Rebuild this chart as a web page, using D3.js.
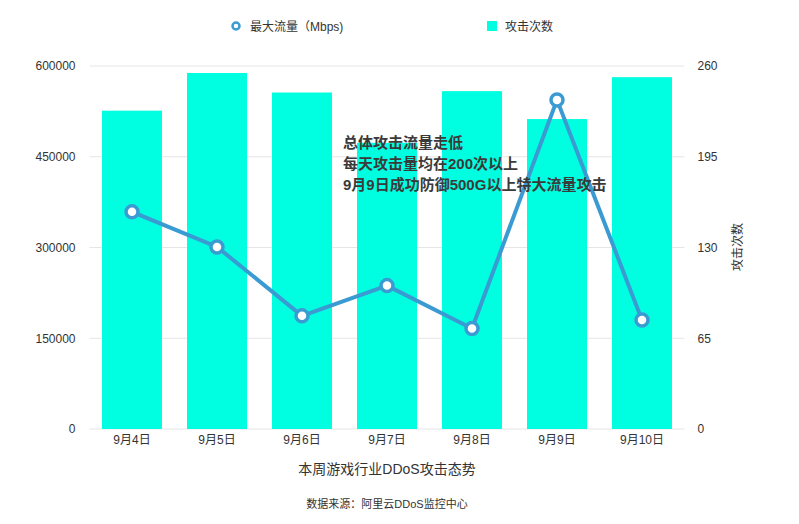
<!DOCTYPE html>
<html><head><meta charset="utf-8">
<script src="https://cdn.jsdelivr.net/npm/d3@7/dist/d3.min.js"></script>
<style>
body{margin:0;background:#fff;}
text{font-family:"Liberation Sans","Noto Sans CJK SC",sans-serif;}
</style></head><body>
<svg id="c" width="799" height="524"></svg>
<script>
const categories = ["9月4日","9月5日","9月6日","9月7日","9月8日","9月9日","9月10日"];
const attackCounts = [228, 255, 241, 205, 242, 222, 252];
const maxTraffic = [359000, 301000, 187000, 237000, 166000, 544000, 180000];
const leftTicks = [0, 150000, 300000, 450000, 600000];
const rightTicks = [0, 65, 130, 195, 260];
const annotation = ["总体攻击流量走低", "每天攻击量均在200次以上", "9月9日成功防御500G以上特大流量攻击"];

const svg = d3.select("#c");
const L = 89.5, R = 684.5, T = 66, B = 429;
const x = d3.scaleBand().domain(categories).range([L, R]).paddingInner(0.294).paddingOuter(0.147);
const yL = d3.scaleLinear().domain([0, 600000]).range([B, T]);
const yR = d3.scaleLinear().domain([0, 260]).range([B, T]);

// grid
svg.append("g").selectAll("line").data(leftTicks).join("line")
  .attr("x1", L).attr("x2", R).attr("y1", d => yL(d)).attr("y2", d => yL(d))
  .attr("stroke", "#e6e6e6").attr("stroke-width", 1);

// bars
svg.append("g").selectAll("rect").data(categories).join("rect")
  .attr("x", d => x(d)).attr("width", x.bandwidth())
  .attr("y", (d, i) => yR(attackCounts[i])).attr("height", (d, i) => B - yR(attackCounts[i]))
  .attr("fill", "#00ffe1");

// axes
const gl = svg.append("g").attr("transform", `translate(${L},0)`)
  .call(d3.axisLeft(yL).tickValues(leftTicks).tickSize(0).tickPadding(14).tickFormat(d3.format("d")));
gl.select(".domain").remove();
gl.selectAll("text").attr("font-size", 12).attr("fill", "#333");

const gr = svg.append("g").attr("transform", `translate(${R},0)`)
  .call(d3.axisRight(yR).tickValues(rightTicks).tickSize(0).tickPadding(13));
gr.select(".domain").remove();
gr.selectAll("text").attr("font-size", 12).attr("fill", "#333");

const gx = svg.append("g").attr("transform", `translate(0,${B})`)
  .call(d3.axisBottom(x).tickSize(0).tickPadding(6));
gx.select(".domain").remove();
gx.selectAll("text").attr("font-size", 12).attr("fill", "#333");

// right axis title
svg.append("text").attr("transform", `translate(742,247) rotate(-90)`)
  .attr("text-anchor", "middle").attr("font-size", 12).attr("fill", "#333").text("攻击次数");

// line
const cx = d => x(d) + x.bandwidth() / 2;
const lineGen = d3.line().x((d, i) => cx(categories[i])).y(d => yL(d));
svg.append("path").datum(maxTraffic).attr("d", lineGen)
  .attr("fill", "none").attr("stroke", "#3a9bd2").attr("stroke-width", 4).attr("stroke-linejoin", "round");
svg.append("g").selectAll("circle").data(maxTraffic).join("circle")
  .attr("cx", (d, i) => cx(categories[i])).attr("cy", d => yL(d)).attr("r", 6)
  .attr("fill", "#fff").attr("stroke", "#3a9bd2").attr("stroke-width", 3.5);

// annotation
svg.append("g").selectAll("text").data(annotation).join("text")
  .attr("x", 343).attr("y", (d, i) => 148 + i * 21)
  .attr("font-size", 15).attr("font-weight", "bold").attr("fill", "#3a3a3a").text(d => d);

// legend
svg.append("circle").attr("cx", 236).attr("cy", 26).attr("r", 3.5)
  .attr("fill", "#fff").attr("stroke", "#3a9bd2").attr("stroke-width", 2.5);
svg.append("text").attr("x", 250).attr("y", 31).attr("font-size", 12).attr("fill", "#333").text("最大流量（Mbps)");
svg.append("rect").attr("x", 487).attr("y", 21).attr("width", 10).attr("height", 10).attr("fill", "#00ffe1");
svg.append("text").attr("x", 505).attr("y", 31).attr("font-size", 12).attr("fill", "#333").text("攻击次数");

// titles
svg.append("text").attr("x", 387).attr("y", 474).attr("text-anchor", "middle")
  .attr("font-size", 14).attr("fill", "#333").text("本周游戏行业DDoS攻击态势");
svg.append("text").attr("x", 387).attr("y", 508).attr("text-anchor", "middle")
  .attr("font-size", 11).attr("fill", "#333").text("数据来源：阿里云DDoS监控中心");
</script>
</body></html>
